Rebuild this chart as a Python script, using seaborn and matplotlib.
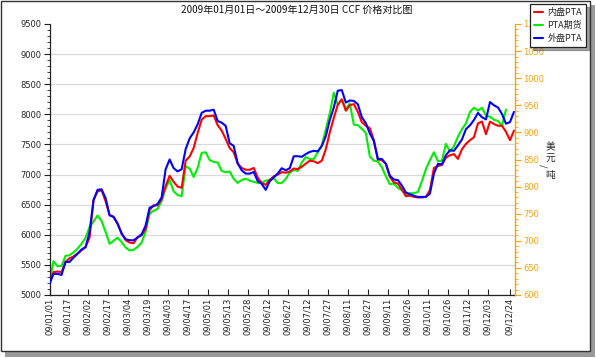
import numpy as np
import pandas as pd
import matplotlib
matplotlib.use("Agg")
import matplotlib.pyplot as plt
import seaborn as sns
from matplotlib.patches import Rectangle
from matplotlib.lines import Line2D
from matplotlib.ticker import MultipleLocator

# ---------------- data ----------------
day_index = list(range(0, 233, 2))

domestic_pta = [5200, 5380, 5390, 5380, 5550, 5610, 5640, 5690, 5740, 5800,
                5950, 6580, 6720, 6740, 6560, 6330, 6300, 6180, 6030, 5910,
                5870, 5860, 5960, 5990, 6100, 6410, 6490, 6490, 6590, 6810,
                6980, 6880, 6800, 6780, 7230, 7300, 7440, 7690, 7910, 7970,
                7970, 7980, 7820, 7730, 7590, 7440, 7370, 7180, 7110, 7080,
                7080, 7110, 6950, 6860, 6830, 6910, 6970, 7000, 7040, 7030,
                7050, 7100, 7090, 7130, 7180, 7230, 7220, 7190, 7230, 7420,
                7700, 7940, 8160, 8250, 8060, 8150, 8170, 8040, 7870, 7810,
                7770, 7570, 7250, 7240, 7180, 6960, 6870, 6850, 6750, 6640,
                6650, 6630, 6620, 6620, 6630, 6740, 7110, 7140, 7160, 7280,
                7320, 7340, 7260, 7420, 7510, 7570, 7620, 7850, 7880, 7670,
                7880, 7840, 7810, 7810, 7710, 7570, 7730]

pta_futures = [5220, 5560, 5480, 5480, 5650, 5660, 5710, 5770, 5850, 5950,
               6130, 6220, 6320, 6230, 6050, 5850, 5900, 5950, 5880, 5790,
               5740, 5750, 5800, 5870, 6050, 6350, 6400, 6430, 6560, 6770,
               6910, 6720, 6660, 6640, 7140, 7100, 6960, 7110, 7360, 7370,
               7240, 7210, 7200, 7060, 7040, 7050, 6930, 6860, 6910, 6930,
               6900, 6880, 6860, 6860, 6900, 6910, 6940, 6860, 6860, 6930,
               7030, 7080, 7060, 7200, 7290, 7260, 7260, 7370, 7480, 7750,
               8020, 8360, 8160, 8240, 8090, 8180, 7830, 7820, 7760, 7690,
               7300, 7230, 7220, 7120, 6970, 6840, 6850, 6780, 6740, 6670,
               6690, 6690, 6710, 6890, 7090, 7240, 7370, 7220, 7230, 7510,
               7380, 7470, 7630, 7750, 7850, 8040, 8110, 8060, 8110, 7980,
               7960, 7910, 7890, 7810, 8080, np.nan, np.nan]

import_pta_usd = [620, 639, 639, 637, 661, 661, 669, 676, 684, 688,
                  716, 775, 794, 795, 779, 747, 744, 732, 713, 703,
                  701, 701, 706, 712, 728, 761, 764, 768, 780, 832,
                  850, 834, 828, 832, 869, 889, 900, 915, 936, 940,
                  940, 942, 921, 918, 912, 880, 875, 843, 830, 824,
                  824, 827, 810, 805, 794, 810, 817, 824, 834, 830,
                  834, 856, 856, 855, 860, 864, 866, 865, 875, 893,
                  923, 946, 977, 978, 955, 959, 958, 952, 928, 917,
                  898, 884, 851, 851, 842, 820, 813, 812, 802, 789,
                  786, 783, 781, 781, 781, 787, 824, 842, 841, 858,
                  867, 866, 876, 887, 906, 913, 923, 936, 928, 924,
                  956, 950, 946, 934, 916, 919, 938]

tick_labels = ["09/01/01", "09/01/17", "09/02/02", "09/02/17", "09/03/04",
               "09/03/19", "09/04/03", "09/04/17", "09/05/01", "09/05/13",
               "09/05/28", "09/06/12", "09/06/27", "09/07/12", "09/07/27",
               "09/08/11", "09/08/27", "09/09/11", "09/09/26", "09/10/11",
               "09/10/26", "09/11/12", "09/12/03", "09/12/24"]
tick_positions = [0, 9] + list(range(19, 220, 10)) + [230]

series_names = ["内盘PTA", "PTA期货", "外盘PTA"]
series_colors = ["#ff0000", "#00ee00", "#0000ff"]
title_text = "2009年01月01日～2009年12月30日 CCF 价格对比图"

# ---------------- style ----------------
sns.set_theme(style="white")
plt.rcParams['font.family'] = ['DejaVu Sans', 'Noto Sans CJK SC']
cjk = ['Noto Sans CJK SC', 'DejaVu Sans']
orange = "#ffa000"

W, H = 596, 358
fig = plt.figure(figsize=(W / 100, H / 100), dpi=100)
fig.patch.set_facecolor("white")


def px_rect(x0, y0, x1, y1, **kw):
    return Rectangle((x0 / W, 1 - y1 / H), (x1 - x0) / W, (y1 - y0) / H,
                     transform=fig.transFigure, **kw)


# outer frame with shadow
fig.patches.append(px_rect(5, 5, 595, 357, facecolor="#9a9a9a", edgecolor="none", zorder=-11))
fig.patches.append(px_rect(0.5, 0.5, 589.5, 351, facecolor="white", edgecolor="#333333",
                           linewidth=1, zorder=-10))

ax = fig.add_axes([49.5 / W, 1 - 295 / H, (515 - 49.5) / W, (295 - 24) / H])
ax.patch.set_alpha(0)

df = pd.DataFrame({
    "day": day_index * 2,
    "price": domestic_pta + pta_futures,
    "series": [series_names[0]] * len(day_index) + [series_names[1]] * len(day_index),
})
sns.lineplot(data=df[df.series == series_names[1]], x="day", y="price", ax=ax,
             color=series_colors[1], linewidth=1.5, estimator=None, legend=False)
sns.lineplot(data=df[df.series == series_names[0]], x="day", y="price", ax=ax,
             color=series_colors[0], linewidth=1.5, estimator=None, legend=False)

ax.set_xlim(0, 232.5)
ax.set_ylim(5000, 9500)
ax.set_yticks(list(range(5000, 9501, 500)))
ax.yaxis.set_minor_locator(MultipleLocator(100))
ax.set_xticks(tick_positions)
ax.set_xticklabels(tick_labels, rotation=90, fontsize=6)
ax.set_xlabel("")
ax.set_ylabel("")
ax.tick_params(axis="y", which="major", direction="out", length=4, width=0.8,
               labelsize=6, colors="#222222", left=True, pad=2)
ax.tick_params(axis="y", which="minor", direction="out", length=2, width=0.6,
               colors="#222222", left=True)
ax.tick_params(axis="x", which="major", direction="in", length=4, width=0.8,
               labelsize=6, colors="#222222", bottom=True, pad=2)
ax.yaxis.grid(True, color="#d9d9d9", linewidth=0.9)
ax.set_axisbelow(True)
for gl in ax.yaxis.get_gridlines()[-1:]:
    gl.set_visible(False)
for s in ["top", "right"]:
    ax.spines[s].set_visible(False)
for s in ["left", "bottom"]:
    ax.spines[s].set_color("#222222")
    ax.spines[s].set_linewidth(0.9)

ax2 = ax.twinx()
sns.lineplot(x=day_index, y=import_pta_usd, ax=ax2, color=series_colors[2],
             linewidth=1.5, estimator=None, legend=False)
ax2.set_ylim(600, 1100)
ax2.set_yticks(list(range(600, 1101, 50)))
ax2.yaxis.set_minor_locator(MultipleLocator(10))
ax2.tick_params(axis="y", which="major", direction="out", length=4, width=0.8,
                labelsize=6, colors=orange, right=True, pad=2)
ax2.tick_params(axis="y", which="minor", direction="out", length=2, width=0.6,
                colors=orange, right=True)
ax2.set_ylabel("")
for s in ["top", "left", "bottom"]:
    ax2.spines[s].set_visible(False)
ax2.spines["right"].set_color(orange)
ax2.spines["right"].set_linewidth(1.0)
ax2.grid(False)

# title
fig.text(297 / W, 1 - 9.5 / H, title_text, ha="center", va="center",
         fontsize=7.2, family=cjk, color="#111111")

# right axis unit label
fig.text(550 / W, 1 - 147 / H, "美", ha="center", va="center", fontsize=7, family=cjk)
fig.text(550 / W, 1 - 157.5 / H, "元", ha="center", va="center", fontsize=7, family=cjk)
fig.text(543 / W, 1 - 165.5 / H, "/", ha="center", va="center", fontsize=6.5,
         rotation=-90, family=cjk)
fig.text(550 / W, 1 - 175 / H, "吨", ha="center", va="center", fontsize=7, family=cjk)

# legend
handles = [Line2D([0], [0], color=c, lw=1.5) for c in series_colors]
leg = fig.legend(handles, series_names, loc="upper left",
                 bbox_to_anchor=(530 / W, 1 - 4 / H), prop={"family": cjk, "size": 6.5},
                 frameon=True, fancybox=False, shadow=True, edgecolor="#222222",
                 handlelength=1.0, handletextpad=0.5, borderpad=0.45,
                 labelspacing=0.45, borderaxespad=0)
leg.get_frame().set_linewidth(0.9)

fig.savefig("out.png", dpi=100, facecolor="white")
